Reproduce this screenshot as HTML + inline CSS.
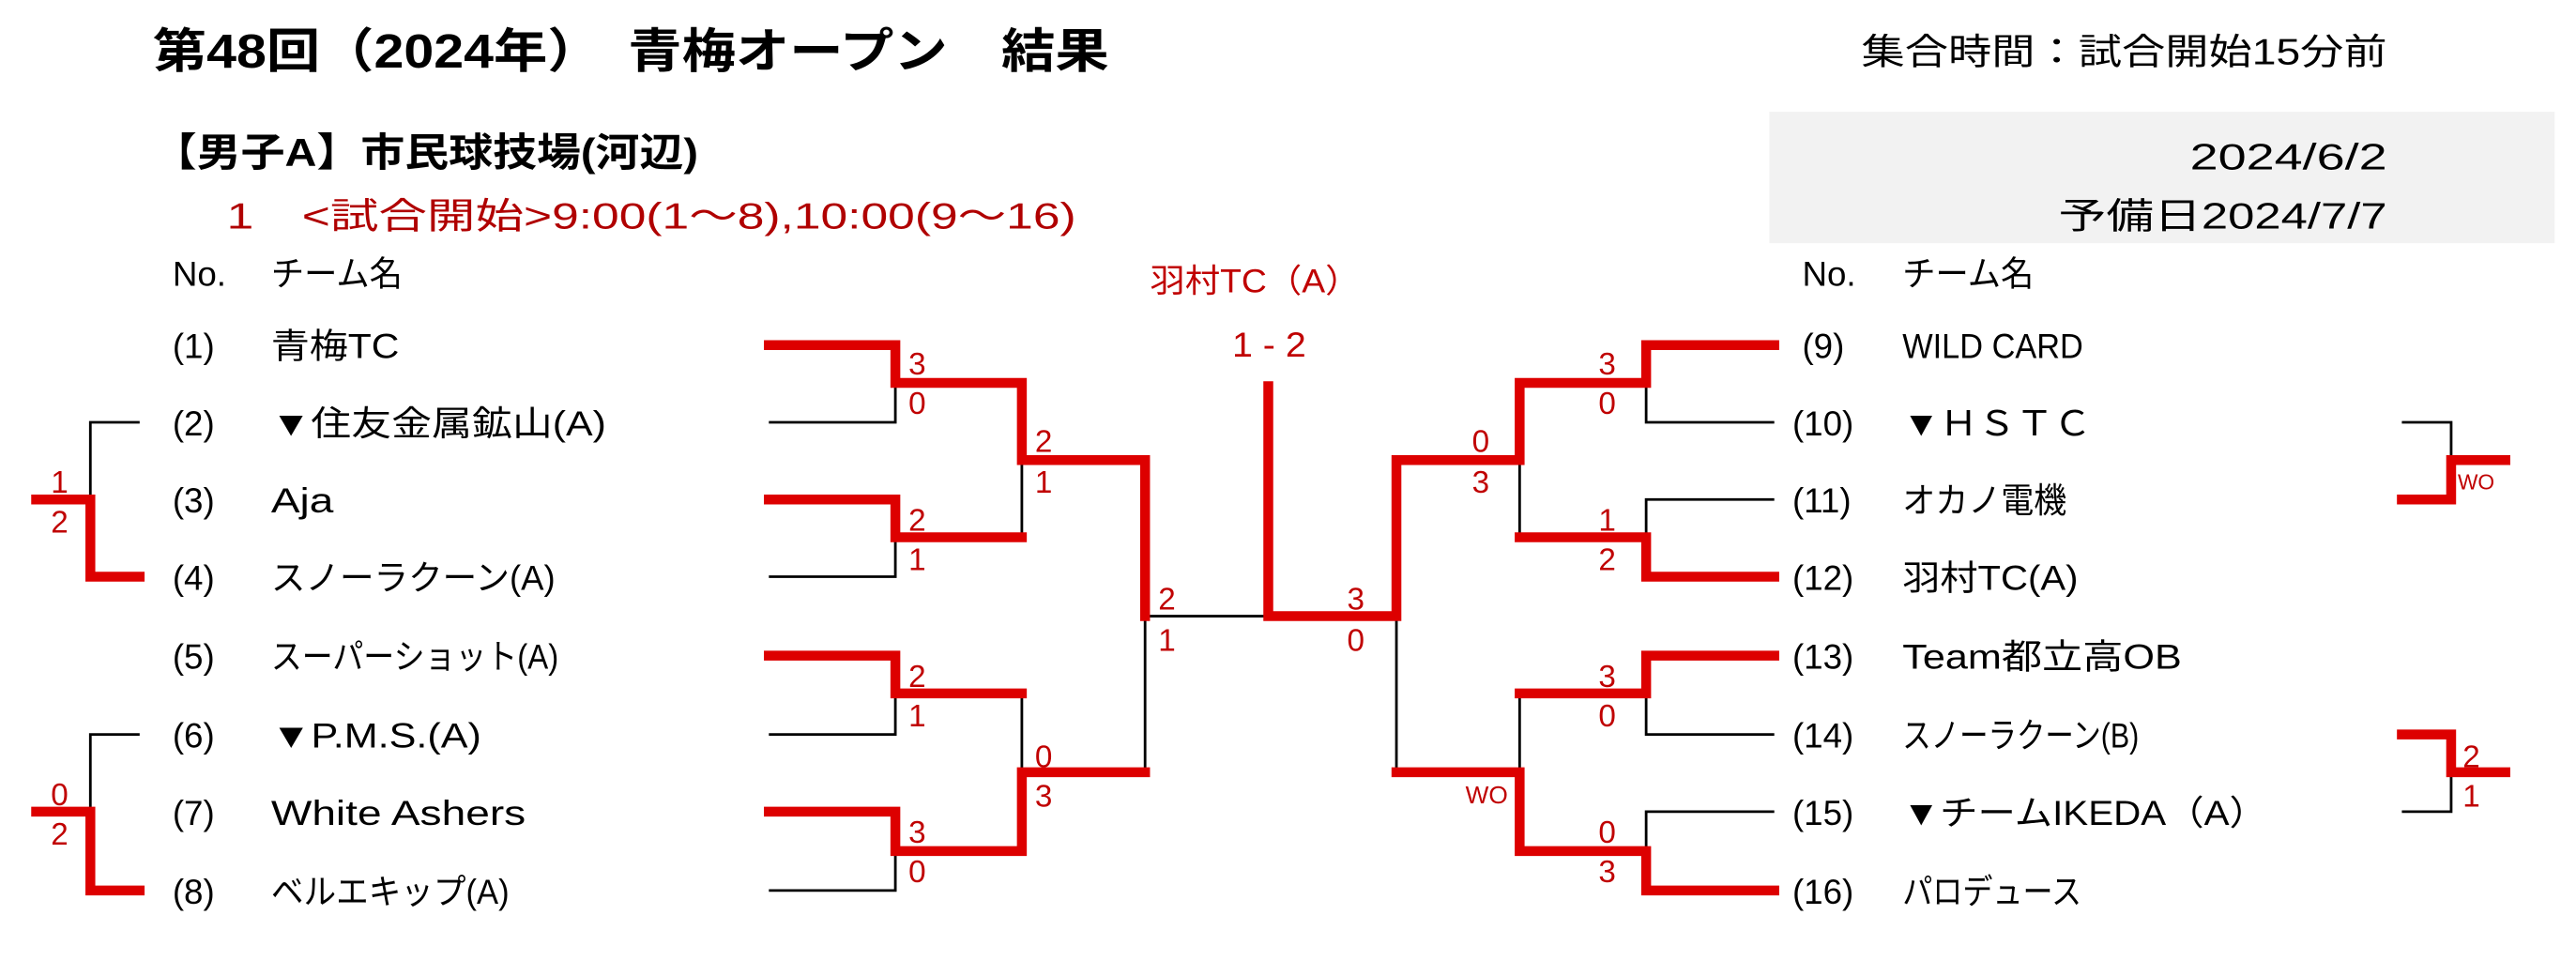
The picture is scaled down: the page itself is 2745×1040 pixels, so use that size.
<!DOCTYPE html>
<html><head><meta charset="utf-8"><style>
html,body{margin:0;padding:0;background:#fff;}
svg{display:block;}
text{font-family:"Liberation Sans","Noto Sans CJK JP",sans-serif;}
.t{font-size:21px;fill:#000;}
.s{font-size:19px;fill:#c00000;}
.k{stroke:#000;stroke-width:1.6;fill:none;}
.r{stroke:#dd0000;stroke-width:6;fill:none;stroke-linecap:square;}
</style></head><body>
<svg width="2745" height="1040" viewBox="0 0 1568 594" xmlns="http://www.w3.org/2000/svg">
<rect x="1077" y="68" width="478" height="80" fill="#f2f2f2"/>
<text x="93" y="41" textLength="582" lengthAdjust="spacingAndGlyphs" style="font-size:29px;font-weight:bold">第48回（2024年）　青梅オープン　結果</text>
<text x="1133" y="39" textLength="320" lengthAdjust="spacingAndGlyphs" style="font-size:22px">集合時間：試合開始15分前</text>
<text x="93" y="101" textLength="332" lengthAdjust="spacingAndGlyphs" style="font-size:24px;font-weight:bold">【男子A】市民球技場(河辺)</text>
<text x="1333" y="103" textLength="120" lengthAdjust="spacingAndGlyphs" style="font-size:22px">2024/6/2</text>
<text x="1253" y="139" textLength="200" lengthAdjust="spacingAndGlyphs" style="font-size:22px">予備日2024/7/7</text>
<text x="138" y="139" textLength="517" lengthAdjust="spacingAndGlyphs" style="font-size:22px;fill:#b00000">1　&lt;試合開始&gt;9:00(1～8),10:00(9～16)</text>
<text x="105" y="174" class="t">No.</text><text x="165" y="174" class="t" textLength="80" lengthAdjust="spacingAndGlyphs">チーム名</text>
<text x="1097" y="174" class="t">No.</text><text x="1158" y="174" class="t" textLength="80" lengthAdjust="spacingAndGlyphs">チーム名</text>
<text x="700" y="178" textLength="128" lengthAdjust="spacingAndGlyphs" style="font-size:20px;fill:#c00000">羽村TC（A）</text>
<text x="750" y="217" textLength="45" lengthAdjust="spacingAndGlyphs" style="font-size:21px;fill:#c00000">1 - 2</text>

<g class="t" lengthAdjust="spacingAndGlyphs">
<text x="105" y="218">(1)</text><text x="165" y="218" textLength="78" lengthAdjust="spacingAndGlyphs">青梅TC</text>
<text x="105" y="265">(2)</text><text x="165" y="265" textLength="204" lengthAdjust="spacingAndGlyphs">▼住友金属鉱山(A)</text>
<text x="105" y="312">(3)</text><text x="165" y="312" textLength="38" lengthAdjust="spacingAndGlyphs">Aja</text>
<text x="105" y="359">(4)</text><text x="165" y="359" textLength="173" lengthAdjust="spacingAndGlyphs">スノーラクーン(A)</text>
<text x="105" y="407">(5)</text><text x="165" y="407" textLength="175" lengthAdjust="spacingAndGlyphs">スーパーショット(A)</text>
<text x="105" y="455">(6)</text><text x="165" y="455" textLength="128" lengthAdjust="spacingAndGlyphs">▼P.M.S.(A)</text>
<text x="105" y="502">(7)</text><text x="165" y="502" textLength="155" lengthAdjust="spacingAndGlyphs">White Ashers</text>
<text x="105" y="550">(8)</text><text x="165" y="550" textLength="145" lengthAdjust="spacingAndGlyphs">ベルエキップ(A)</text>
<text x="1097" y="218">(9)</text><text x="1158" y="218" textLength="110" lengthAdjust="spacingAndGlyphs">WILD CARD</text>
<text x="1091" y="265">(10)</text><text x="1158" y="265" textLength="115" lengthAdjust="spacingAndGlyphs">▼ＨＳＴＣ</text>
<text x="1091" y="312">(11)</text><text x="1158" y="312" textLength="100" lengthAdjust="spacingAndGlyphs">オカノ電機</text>
<text x="1091" y="359">(12)</text><text x="1158" y="359" textLength="107" lengthAdjust="spacingAndGlyphs">羽村TC(A)</text>
<text x="1091" y="407">(13)</text><text x="1158" y="407" textLength="170" lengthAdjust="spacingAndGlyphs">Team都立高OB</text>
<text x="1091" y="455">(14)</text><text x="1158" y="455" textLength="144" lengthAdjust="spacingAndGlyphs">スノーラクーン(B)</text>
<text x="1091" y="502">(15)</text><text x="1158" y="502" textLength="222" lengthAdjust="spacingAndGlyphs">▼チームIKEDA（A）</text>
<text x="1091" y="550">(16)</text><text x="1158" y="550" textLength="109" lengthAdjust="spacingAndGlyphs">パロデュース</text>
</g>

<path class="k" d="M468 257H545V233 M468 351H545V327 M468 447H545V422 M468 542H545V518
M622 280V327 M622 422V470 M697 375V470 M697 375H772
M850 375V470 M925 280V327 M925 422V470
M1080 257H1002V233 M1080 304H1002V327 M1080 447H1002V422 M1080 494H1002V518
M85 257H55V304 M85 447H55V494
M1462 257H1492V280 M1462 494H1492V470"/>
<path class="r" d="M468 210H545V233H622V280H697V375
M468 304H545V327H622
M468 399H545V422H622
M468 494H545V518H622V470H697
M772 235V375H850V280H925V233H1002V210H1080
M925 327H1002V351H1080
M925 280V233
M850 470H925V518H1002V542H1080
M925 422H1002V399H1080
M22 304H55V351H85
M22 494H55V542H85
M1525 280H1492V304H1462
M1462 447H1492V470H1525"/>

<g class="s">
<text x="553" y="228">3</text><text x="553" y="252">0</text>
<text x="553" y="323">2</text><text x="553" y="347">1</text>
<text x="553" y="418">2</text><text x="553" y="442">1</text>
<text x="553" y="513">3</text><text x="553" y="537">0</text>
<text x="630" y="275">2</text><text x="630" y="300">1</text>
<text x="630" y="467">0</text><text x="630" y="491">3</text>
<text x="705" y="371">2</text><text x="705" y="396">1</text>
<text x="820" y="371">3</text><text x="820" y="396">0</text>
<text x="896" y="275">0</text><text x="896" y="300">3</text>
<text x="973" y="228">3</text><text x="973" y="252">0</text>
<text x="973" y="323">1</text><text x="973" y="347">2</text>
<text x="973" y="418">3</text><text x="973" y="442">0</text>
<text x="973" y="513">0</text><text x="973" y="537">3</text>
<text x="892" y="489" style="font-size:15px">WO</text>
<text x="31" y="300">1</text><text x="31" y="324">2</text>
<text x="31" y="490">0</text><text x="31" y="514">2</text>
<text x="1496" y="298" style="font-size:13px">WO</text>
<text x="1499" y="467">2</text><text x="1499" y="491">1</text>
</g>
</svg>
</body></html>
